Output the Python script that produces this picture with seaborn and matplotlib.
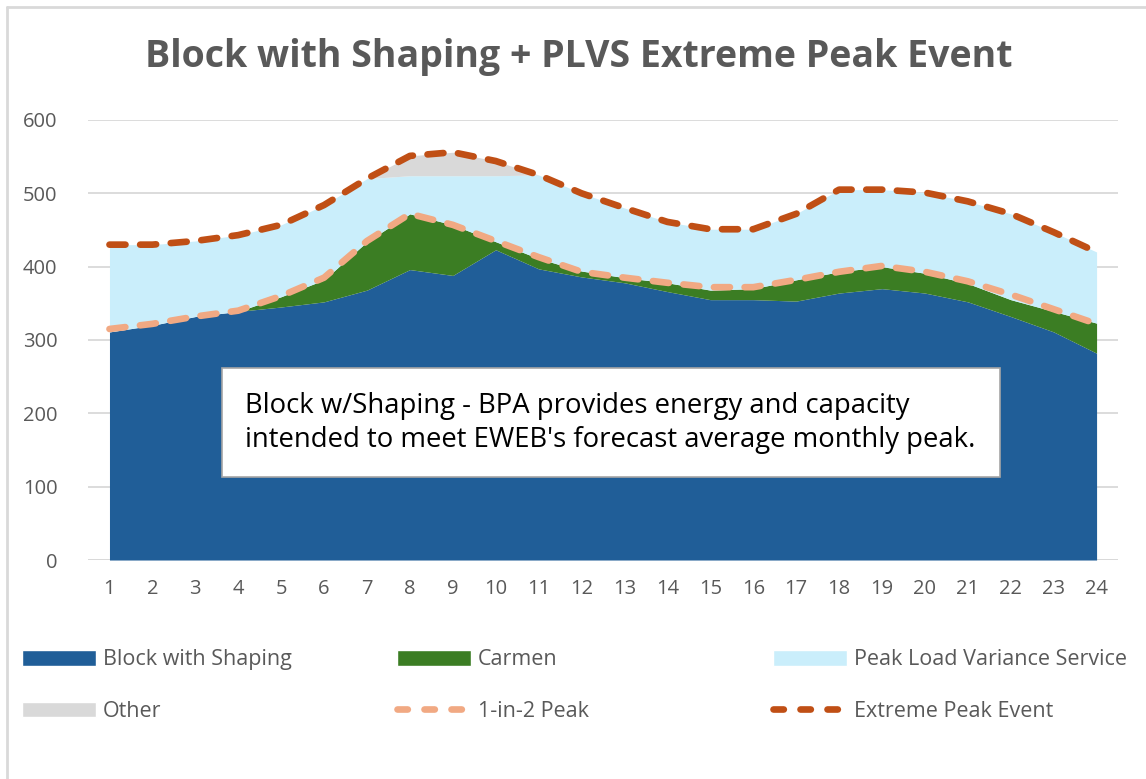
import numpy as np
import pandas as pd
import matplotlib
matplotlib.use('Agg')
import matplotlib.pyplot as plt
import seaborn as sns
from matplotlib.patches import Patch, Rectangle
from matplotlib.lines import Line2D

# hourly values
hours = list(range(1, 25))
block = [311, 320, 332, 339, 345, 352, 368, 396, 388, 423, 397, 386,
         378, 366, 355, 355, 353, 364, 370, 364, 352, 332, 311, 282]
carmen = [0, 0, 0, 0, 14, 30, 66, 76, 69, 11, 14, 8,
          7, 12, 13, 15, 29, 29, 30, 27, 25, 23, 28, 41]
plvs = [119, 110, 103, 104, 98, 102, 86, 52, 67, 90, 114, 106,
        95, 83, 83, 81, 90, 112, 105, 110, 112, 117, 108, 97]
other = [0, 0, 0, 0, 0, 0, 0, 27, 32, 20, 0, 0,
         0, 0, 0, 0, 0, 0, 0, 0, 0, 0, 0, 0]
peak_1in2 = [315, 322, 332, 340, 360, 385, 435, 472, 457, 435, 413, 393,
             385, 378, 372, 372, 382, 393, 401, 393, 380, 362, 342, 322]
extreme = [430, 430, 435, 443, 457, 484, 520, 551, 556, 544, 525, 500,
           480, 461, 451, 451, 472, 505, 505, 501, 489, 472, 447, 420]

df = pd.DataFrame({'hour': hours, 'block': block, 'carmen': carmen,
                   'plvs': plvs, 'other': other,
                   'peak': peak_1in2, 'extreme': extreme})

sns.set_style('white')
plt.rcParams['font.family'] = ['Open Sans', 'DejaVu Sans']

c_block = '#205E98'
c_carmen = '#3B7D23'
c_plvs = '#CAEEFB'
c_other = '#D9D9D9'
c_peak = '#F1A983'
c_ext = '#C04F15'
grey_txt = '#595959'

fig = plt.figure(figsize=(11.46, 7.79), dpi=100)
ax = fig.add_axes([0.0768, 0.2811, 0.8988, 0.5649])

# stacked areas
stack = [('block', c_block), ('carmen', c_carmen), ('plvs', c_plvs), ('other', c_other)]
base = np.zeros(len(df))
for col, colr in stack:
    top = base + df[col].values
    ax.fill_between(df['hour'], base, top, color=colr, linewidth=0, zorder=2)
    base = top

sns.lineplot(data=df, x='hour', y='peak', ax=ax, color=c_peak, lw=4.8,
             dashes=False, zorder=4)
sns.lineplot(data=df, x='hour', y='extreme', ax=ax, color=c_ext, lw=4.8,
             dashes=False, zorder=5)
for ln in ax.lines:
    ln.set_dashes((2.4, 2.2))
    ln.set_dash_capstyle('round')

ax.set_xlim(0.5, 24.5)
ax.set_ylim(0, 600)
ax.set_xticks(hours)
ax.set_yticks(range(0, 601, 100))
ax.yaxis.grid(True, color='#D9D9D9', lw=1.3, zorder=0)
ax.set_axisbelow(True)
sns.despine(ax=ax, left=True, bottom=True, top=True, right=True)
ax.tick_params(axis='both', length=0, labelsize=14.5, labelcolor=grey_txt)
ax.tick_params(axis='y', pad=22)
ax.tick_params(axis='x', pad=14)
ax.set_xlabel('')
ax.set_ylabel('')
ax.axhline(0, color='#D9D9D9', lw=1.3, zorder=1)

fig.suptitle('Block with Shaping + PLVS Extreme Peak Event', x=0.505, y=1 - 57 / 779,
             va='center', fontsize=27, fontweight='bold', color=grey_txt)

# annotation box
box = Rectangle((222 / 1146, 1 - 477 / 779), (1000 - 222) / 1146, (477 - 368) / 779,
                transform=fig.transFigure, facecolor='white', edgecolor='#A6A6A6',
                lw=1.2, zorder=10)
fig.add_artist(box)
fig.text(245 / 1146, 1 - 423 / 779,
         "Block w/Shaping - BPA provides energy and capacity\n"
         "intended to meet EWEB's forecast average monthly peak.",
         fontsize=19.8, color='black', va='center', ha='left', linespacing=1.3,
         zorder=11)

# legend, three columns placed separately
def line_handle(colr):
    return Line2D([], [], color=colr, lw=4.8, dashes=(1.55, 2.5), dash_capstyle='round')

cols = [
    [(Patch(facecolor=c_block), 'Block with Shaping'), (Patch(facecolor=c_other), 'Other')],
    [(Patch(facecolor=c_carmen), 'Carmen'), (line_handle(c_peak), '1-in-2 Peak')],
    [(Patch(facecolor=c_plvs), 'Peak Load Variance Service'), (line_handle(c_ext), 'Extreme Peak Event')],
]
for i, xpx in enumerate([18, 393, 769]):
    h, l = zip(*cols[i])
    fig.legend(h, l, loc='upper left', bbox_to_anchor=(xpx / 1146, 1 - 645 / 779),
               frameon=False, fontsize=15.5, labelcolor=grey_txt,
               handlelength=3.4, handleheight=0.75, handletextpad=0.33,
               labelspacing=1.43, borderpad=0.2, borderaxespad=0)

# chart border (left and top edges visible)
fig.add_artist(Line2D([7 / 1146, 7 / 1146], [0, 1 - 7 / 779], transform=fig.transFigure,
                      color='#D9D9D9', lw=2))
fig.add_artist(Line2D([7 / 1146, 1], [1 - 7 / 779, 1 - 7 / 779], transform=fig.transFigure,
                      color='#D9D9D9', lw=2))

fig.savefig('out.png', dpi=100, facecolor='white')
